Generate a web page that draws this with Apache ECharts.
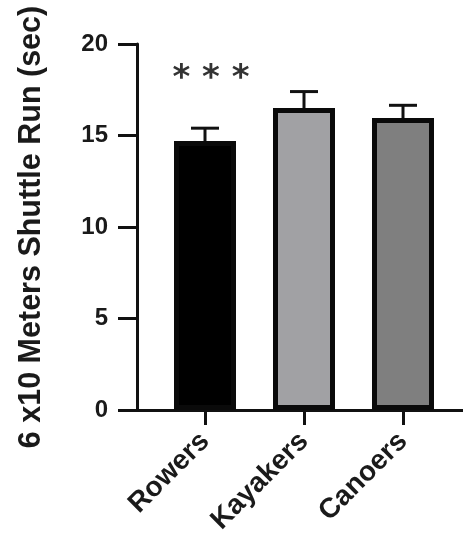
<!DOCTYPE html>
<html>
<head>
<meta charset="utf-8">
<script src="https://cdn.jsdelivr.net/npm/echarts@6/dist/echarts.min.js"></script>
<style>
html,body{margin:0;padding:0;background:#fff;}
#chart{width:463px;height:541px;}
</style>
</head>
<body>
<div id="chart"></div>
<script>
const categories = ['Rowers', 'Kayakers', 'Canoers'];
const means = [14.7, 16.5, 15.95];
const upperErr = [15.4, 17.4, 16.65];
const barColors = ['#000000', '#a1a1a4', '#7f7f7f'];
const sigLabels = ['***', '', ''];
const sigLevel = 18.1;
const yTicks = [0, 5, 10, 15, 20];
const yTitle = '6 x10 Meters Shuttle Run (sec)';

const FONT = '"Liberation Sans", Arial, sans-serif';
const chart = echarts.init(document.getElementById('chart'), null, {renderer: 'canvas'});

const errData = categories.map((c, i) => [i, means[i], upperErr[i], sigLabels[i]]);

chart.setOption({
  animation: false,
  backgroundColor: '#ffffff',
  grid: [
    {left: 155.5, right: 10.5, top: 44, bottom: 131},
    {left: 137, right: 0, top: 44, bottom: 131}
  ],
  xAxis: [
    {
      type: 'category', gridIndex: 0, data: categories,
      axisLine: {show: false},
      axisTick: {show: true, alignWithLabel: true, length: 15, lineStyle: {color: '#111', width: 3}},
      axisLabel: {rotate: 45, margin: 27, fontFamily: FONT, fontWeight: 'bold', fontSize: 28, color: '#1a1a1a', interval: 0}
    },
    {
      type: 'value', gridIndex: 1, min: 0, max: 1,
      axisLine: {show: true, lineStyle: {color: '#111', width: 3}},
      axisTick: {show: false}, axisLabel: {show: false}, splitLine: {show: false}
    }
  ],
  yAxis: [
    {
      type: 'value', gridIndex: 0, min: yTicks[0], max: yTicks[yTicks.length - 1], interval: 5,
      offset: 18.5,
      name: yTitle, nameLocation: 'middle', nameGap: 90,
      nameTextStyle: {fontFamily: FONT, fontWeight: 'bold', fontSize: 30.5, color: '#1a1a1a'},
      axisLine: {show: true, lineStyle: {color: '#111', width: 3}},
      axisTick: {show: true, length: 19, lineStyle: {color: '#111', width: 3}},
      axisLabel: {margin: 29, fontFamily: FONT, fontWeight: 'bold', fontSize: 24, color: '#1a1a1a'},
      splitLine: {show: false}
    },
    {type: 'value', gridIndex: 1, show: false, min: 0, max: 1}
  ],
  series: [
    {
      type: 'bar', xAxisIndex: 0, yAxisIndex: 0,
      data: means.map((v, i) => ({value: v, itemStyle: {color: barColors[i]}})),
      barWidth: 62,
      itemStyle: {borderColor: '#0a0a0a', borderWidth: 5},
      z: 2
    },
    {
      type: 'custom', xAxisIndex: 0, yAxisIndex: 0,
      data: errData,
      encode: {x: 0, y: 2},
      z: 3,
      renderItem: function (params, api) {
        const idx = api.value(0);
        const top = api.coord([idx, api.value(1)]);
        const up = api.coord([idx, api.value(2)]);
        const half = 14;
        const children = [
          {type: 'line', shape: {x1: top[0], y1: top[1], x2: up[0], y2: up[1]}, style: {stroke: '#111', lineWidth: 3}},
          {type: 'line', shape: {x1: up[0] - half, y1: up[1], x2: up[0] + half, y2: up[1]}, style: {stroke: '#111', lineWidth: 3}}
        ];
        const lab = sigLabels[params.dataIndex];
        if (lab) {
          const p = api.coord([idx, sigLevel]);
          children.push({
            type: 'text', x: p[0] + 6, y: p[1],
            style: {text: lab.split('').join(' '), fontFamily: '"DejaVu Sans", sans-serif', fontWeight: 'bold', fontSize: 34,
              fill: '#333', align: 'center', verticalAlign: 'middle'}
          });
        }
        return {type: 'group', children: children};
      }
    }
  ]
});
</script>
</body>
</html>
